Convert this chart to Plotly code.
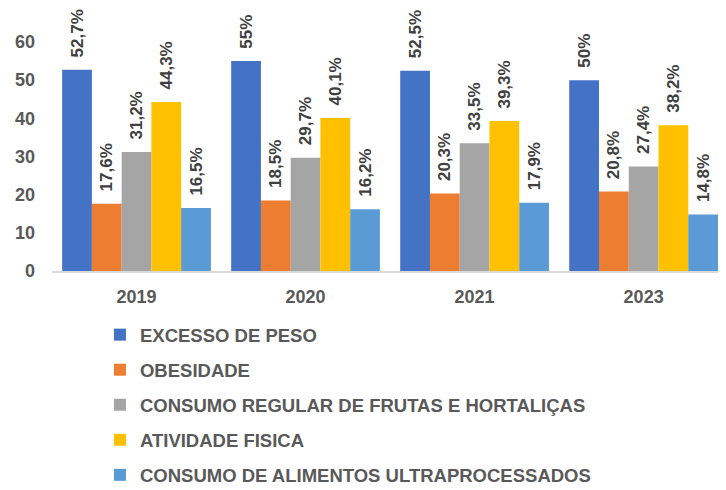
import plotly.graph_objects as go

anos = ["2019", "2020", "2021", "2023"]
series = [
    "EXCESSO DE PESO",
    "OBESIDADE",
    "CONSUMO REGULAR DE FRUTAS E HORTALIÇAS",
    "ATIVIDADE FISICA",
    "CONSUMO DE ALIMENTOS ULTRAPROCESSADOS",
]
excesso_peso = [52.7, 55, 52.5, 50]
obesidade = [17.6, 18.5, 20.3, 20.8]
frutas_hortalicas = [31.2, 29.7, 33.5, 27.4]
atividade_fisica = [44.3, 40.1, 39.3, 38.2]
ultraprocessados = [16.5, 16.2, 17.9, 14.8]

valores = [excesso_peso, obesidade, frutas_hortalicas, atividade_fisica, ultraprocessados]
cores = ["#4472C4", "#ED7D31", "#A5A5A5", "#FFC000", "#5B9BD5"]

fonte = "Liberation Sans, Arial, sans-serif"

fig = go.Figure()
for i, (nome, vals) in enumerate(zip(series, valores)):
    # espaços no início afastam o rótulo do topo da barra
    rotulos = ["\u00a0\u00a0" + f"{v:g}".replace(".", ",") + "%" for v in vals]
    fig.add_trace(go.Bar(
        x=anos,
        y=vals,
        name=nome,
        marker=dict(color=cores[i], line=dict(width=0)),
        text=rotulos,
        textposition="outside",
        textangle=-90,
        constraintext="none",
        textfont=dict(family=fonte, size=17, color="#404040", weight="bold"),
        cliponaxis=False,
        legendgroup=f"g{i}",
    ))

# a página tem 8px de margem, por isso a figura é menor que a janela
fig.update_layout(
    width=710,
    height=482,
    barmode="group",
    bargap=0.12,
    bargroupgap=0,
    plot_bgcolor="white",
    paper_bgcolor="white",
    margin=dict(l=44, r=0, t=34, b=219, autoexpand=False),
    font=dict(family=fonte, color="#595959"),
    legend=dict(
        x=0.072, y=-0.197, xanchor="left", yanchor="top",
        orientation="v",
        tracegroupgap=8,
        itemwidth=30,
        font=dict(family=fonte, size=18.5, color="#595959", weight="bold"),
    ),
    xaxis=dict(
        range=[-0.5, 3.44],
        showline=True, linecolor="#D9D9D9", linewidth=2,
        ticks="", showgrid=False,
        ticklabelstandoff=8,
        tickfont=dict(family=fonte, size=18, color="#595959", weight="bold"),
    ),
    yaxis=dict(
        range=[0, 60], dtick=10,
        showgrid=False, zeroline=False, showline=False,
        ticklabelstandoff=16,
        tickfont=dict(family=fonte, size=18, color="#595959", weight="bold"),
    ),
)

fig.write_html("out.html")
